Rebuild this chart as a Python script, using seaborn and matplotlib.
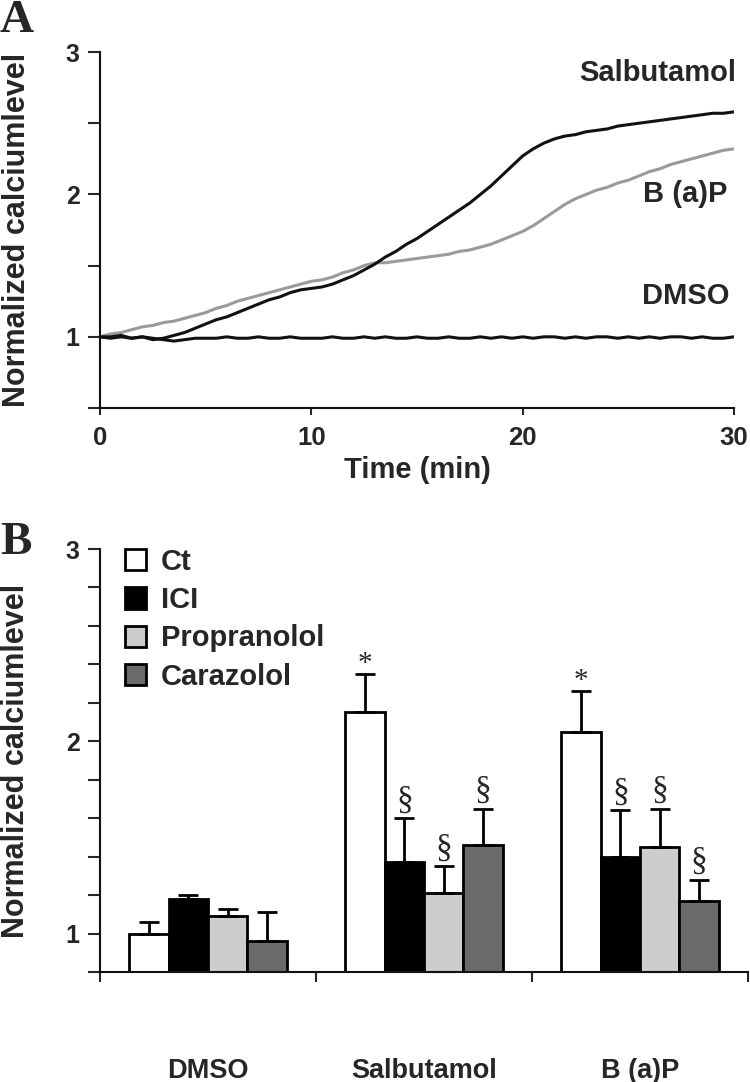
import numpy as np
import pandas as pd
import seaborn as sns
import matplotlib.pyplot as plt
from matplotlib.ticker import FixedLocator

# ---- panel A: time course (min) ----
time = np.arange(0, 30.5, 0.5)
salbutamol = [1.00, 0.99, 1.00, 0.99, 1.00, 0.98, 0.99, 1.01, 1.03, 1.06,
              1.09, 1.12, 1.14, 1.17, 1.20, 1.23, 1.26, 1.28, 1.31, 1.33,
              1.34, 1.35, 1.37, 1.40, 1.43, 1.47, 1.51, 1.56, 1.60, 1.65,
              1.69, 1.74, 1.79, 1.84, 1.89, 1.94, 2.00, 2.06, 2.13, 2.20,
              2.27, 2.32, 2.36, 2.39, 2.41, 2.42, 2.44, 2.45, 2.46, 2.48,
              2.49, 2.50, 2.51, 2.52, 2.53, 2.54, 2.55, 2.56, 2.57, 2.57,
              2.58]
bap = [1.00, 1.02, 1.03, 1.05, 1.07, 1.08, 1.10, 1.11, 1.13, 1.15,
       1.17, 1.20, 1.22, 1.25, 1.27, 1.29, 1.31, 1.33, 1.35, 1.37,
       1.39, 1.40, 1.42, 1.45, 1.47, 1.50, 1.52, 1.52, 1.53, 1.54,
       1.55, 1.56, 1.57, 1.58, 1.60, 1.61, 1.63, 1.65, 1.68, 1.71,
       1.74, 1.78, 1.83, 1.88, 1.93, 1.97, 2.00, 2.03, 2.05, 2.08,
       2.10, 2.13, 2.16, 2.18, 2.21, 2.23, 2.25, 2.27, 2.29, 2.31,
       2.32]
dmso = [1.00, 1.00, 1.01, 0.99, 1.00, 0.99, 0.98, 0.97, 0.98, 0.99,
        0.99, 0.99, 1.00, 0.99, 0.99, 1.00, 0.99, 0.99, 1.00, 0.99,
        0.99, 0.99, 1.00, 0.99, 0.99, 1.00, 0.99, 1.00, 0.99, 0.99,
        1.00, 0.99, 0.99, 1.00, 0.99, 0.99, 1.00, 0.99, 1.00, 0.99,
        1.00, 0.99, 1.00, 1.00, 0.99, 1.00, 0.99, 1.00, 1.00, 0.99,
        1.00, 0.99, 1.00, 0.99, 1.00, 1.00, 0.99, 1.00, 0.99, 0.99,
        1.00]

# ---- panel B: bars ----
groups = ['DMSO', 'Salbutamol', 'B (a)P']
treatments = ['Ct', 'ICI', 'Propranolol', 'Carazolol']
ct_mean = [1.00, 2.15, 2.05]
ici_mean = [1.18, 1.37, 1.40]
prop_mean = [1.09, 1.21, 1.45]
caraz_mean = [0.96, 1.46, 1.17]
ct_err = [0.06, 0.20, 0.21]
ici_err = [0.02, 0.23, 0.24]
prop_err = [0.04, 0.14, 0.20]
caraz_err = [0.15, 0.19, 0.11]
ct_mark = ['', '*', '*']
ici_mark = ['', '§', '§']
prop_mark = ['', '§', '§']
caraz_mark = ['', '§', '§']

sns.set_style('white')
plt.rcParams['font.family'] = ['Liberation Sans', 'DejaVu Sans']
plt.rcParams['font.weight'] = 'bold'
plt.rcParams['axes.labelweight'] = 'bold'
plt.rcParams['axes.edgecolor'] = '#111111'
plt.rcParams['axes.linewidth'] = 1.5

fig = plt.figure(figsize=(7.5, 10.82), dpi=100)
ax1 = fig.add_axes([0.1333, 0.6229, 0.8453, 0.3290])
ax2 = fig.add_axes([0.1333, 0.1017, 0.864, 0.3909])

# A
n = len(time)
df_a = pd.DataFrame({
    'time': np.tile(time, 3),
    'value': bap + salbutamol + dmso,
    'cond': ['B (a)P'] * n + ['Salbutamol'] * n + ['DMSO'] * n,
})
sns.lineplot(data=df_a, x='time', y='value', hue='cond',
             hue_order=['B (a)P', 'Salbutamol', 'DMSO'],
             palette={'B (a)P': '#9a9a9a', 'Salbutamol': '#111111', 'DMSO': '#111111'},
             linewidth=2.2, legend=False, errorbar=None, ax=ax1)
ax1.set_xlim(0, 30)
ax1.set_ylim(0.5, 3)
sns.despine(ax=ax1)
ax1.yaxis.set_major_locator(FixedLocator([1, 2, 3]))
ax1.yaxis.set_minor_locator(FixedLocator([0.5, 1.5, 2.5]))
ax1.set_xticks([0, 10, 20, 30])
ax1.tick_params(axis='y', which='both', left=True, length=8.5, width=1.5,
                labelsize=18, pad=6)
ax1.tick_params(axis='x', bottom=True, length=5, width=1.5, labelsize=18.5, pad=8)
ax1.set_xlabel('Time (min)', fontsize=21, labelpad=4)
ax1.set_ylabel('Normalized calciumlevel', fontsize=22)
ax1.yaxis.set_label_coords(-0.108, 0.5)
ax1.text(30.1, 2.85, 'Salbutamol', ha='right', va='center', fontsize=21)
ax1.text(29.7, 2.0, 'B (a)P', ha='right', va='center', fontsize=21)
ax1.text(29.8, 1.29, 'DMSO', ha='right', va='center', fontsize=21)

# B
df_b = pd.DataFrame({
    'group': groups * 4,
    'treatment': [t for t in treatments for _ in groups],
    'value': ct_mean + ici_mean + prop_mean + caraz_mean,
})
sns.barplot(data=df_b, x='group', y='value', hue='treatment', order=groups,
            hue_order=treatments,
            palette={'Ct': 'white', 'ICI': 'black', 'Propranolol': '#cdcdcd',
                     'Carazolol': '#6b6b6b'},
            saturation=1, width=0.73, edgecolor='black', linewidth=2,
            errorbar=None, ax=ax2)

errs = [ct_err, ici_err, prop_err, caraz_err]
marks = [ct_mark, ici_mark, prop_mark, caraz_mark]
serif = ['Liberation Serif', 'DejaVu Serif']
for cont, e_list, m_list in zip(list(ax2.containers)[:4], errs, marks):
    for bar, e, m in zip(cont, e_list, m_list):
        x = bar.get_x() + bar.get_width() / 2
        top = bar.get_height()
        ax2.errorbar(x, top, yerr=[[0], [e]], fmt='none', ecolor='black',
                     elinewidth=2, capsize=7, capthick=2)
        if m == '*':
            ax2.annotate(m, (x, top + e), xytext=(0, 2), textcoords='offset points',
                         ha='center', va='baseline', fontsize=21,
                         family=serif, weight='normal')
        elif m:
            ax2.annotate(m, (x, top + e), xytext=(0, 7), textcoords='offset points',
                         ha='center', va='baseline', fontsize=24,
                         family=serif, weight='normal')

ax2.set_xlim(-0.5, 2.5)
ax2.set_ylim(0.8, 3)
sns.despine(ax=ax2)
ax2.yaxis.set_major_locator(FixedLocator([1, 2, 3]))
ax2.yaxis.set_minor_locator(FixedLocator([0.8, 1.2, 1.4, 1.6, 1.8, 2.2, 2.4, 2.6, 2.8]))
ax2.xaxis.set_minor_locator(FixedLocator([-0.5, 0.5, 1.5, 2.5]))
ax2.tick_params(axis='y', which='both', left=True, length=8.5, width=1.5,
                labelsize=18, pad=6)
ax2.tick_params(axis='x', which='major', bottom=True, length=0, labelsize=19.5, pad=62)
ax2.tick_params(axis='x', which='minor', bottom=True, length=7, width=1.5)
ax2.set_xlabel('')
ax2.set_ylabel('Normalized calciumlevel', fontsize=22)
ax2.yaxis.set_label_coords(-0.106, 0.5)
sns.move_legend(ax2, 'upper left', bbox_to_anchor=(0.02, 1.03), frameon=False,
                title=None, fontsize=21, handlelength=0.75, handleheight=0.75,
                labelspacing=0.35, handletextpad=0.5, borderaxespad=0)

fig.text(0.0, 1.0, 'A', family=serif, fontsize=34, weight='bold', va='top', ha='left')
fig.text(0.0, 1 - 522 / 1082, 'B', family=serif, fontsize=34, weight='bold',
         va='top', ha='left')

fig.savefig('out.png', dpi=100)
